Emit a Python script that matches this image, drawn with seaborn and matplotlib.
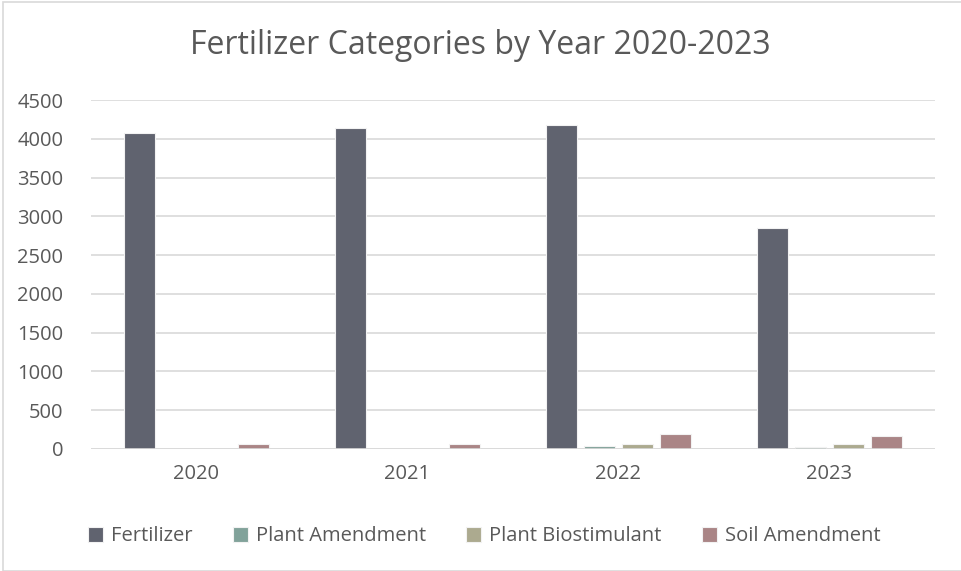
import pandas as pd
import matplotlib
matplotlib.use('Agg')
import matplotlib.pyplot as plt
import seaborn as sns
from matplotlib.patches import Rectangle

years = ['2020', '2021', '2022', '2023']
categories = ['Fertilizer', 'Plant Amendment', 'Plant Biostimulant', 'Soil Amendment']
fertilizer = [4080, 4140, 4180, 2850]
plant_amendment = [3, 5, 35, 30]
plant_biostimulant = [4, 5, 65, 60]
soil_amendment = [60, 70, 190, 165]
colors = ['#5e6271', '#7ba79d', '#b1ae8a', '#b07f80']

data = pd.DataFrame({
    'Year': years * 4,
    'Category': [c for c in categories for _ in years],
    'Value': fertilizer + plant_amendment + plant_biostimulant + soil_amendment,
})

sns.set_style('white')
plt.rcParams['font.family'] = ['Open Sans', 'DejaVu Sans']

fig = plt.figure(figsize=(9.61, 5.71), dpi=100)
ax = fig.add_axes([91 / 961, 1 - 449 / 571, (935 - 91) / 961, 349 / 571])

sns.barplot(data=data, x='Year', y='Value', hue='Category', palette=colors,
            width=0.72, gap=0.2, edgecolor='#f2f2f2', linewidth=0.8,
            errorbar=None, ax=ax, zorder=3)

ax.set_ylim(0, 4500)
ax.set_yticks(range(0, 4501, 500))
ax.grid(axis='y', color='#d9d9d9', linewidth=1.2, zorder=0)
ax.grid(axis='x', visible=False)
for s in ax.spines.values():
    s.set_visible(False)
ax.axhline(0, color='#d9d9d9', linewidth=1.2, zorder=4)
ax.set_xlabel('')
ax.set_ylabel('')
ax.tick_params(axis='y', length=0, pad=20, labelsize=14.5, labelcolor='#595959')
ax.tick_params(axis='x', length=0, pad=11, labelsize=14.5, labelcolor='#595959')

ax.legend(loc='upper center', bbox_to_anchor=(0.466, -0.17), ncol=4, frameon=False,
          fontsize=14.5, labelcolor='#595959', handlelength=0.75, handleheight=0.8,
          handletextpad=0.4, columnspacing=2.0)

fig.suptitle('Fertilizer Categories by Year 2020-2023', y=1 - 45 / 571, va='center',
             fontsize=23, color='#595959')

fig.patches.append(Rectangle((3 / 961, 0), 1, 1 - 2 / 571, transform=fig.transFigure,
                             fill=False, edgecolor='#d9d9d9', linewidth=1.2))

fig.savefig('out.png', dpi=100)
